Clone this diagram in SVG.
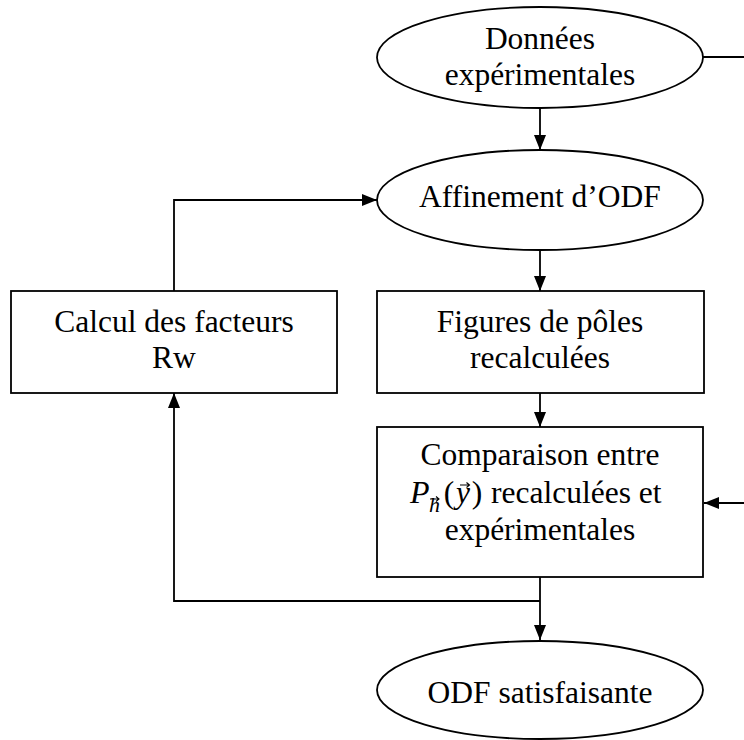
<svg xmlns="http://www.w3.org/2000/svg" width="744" height="740" viewBox="0 0 744 740">
<style>
.n{fill:#fff;stroke:#000;stroke-width:1.8}
.t{font-family:"Liberation Serif","Times New Roman",serif;font-size:31.5px;fill:#000;text-anchor:middle}
.ti{font-family:"Liberation Serif","Times New Roman",serif;font-style:italic;fill:#000}
.c{fill:none;stroke:#000;stroke-width:1.8}
</style>
<defs>
<marker id="a" markerUnits="userSpaceOnUse" markerWidth="16" markerHeight="12" refX="15" refY="6" orient="auto">
<path d="M0,0 L15,6 L0,12 Z" fill="#000"/>
</marker>
</defs>
<rect width="744" height="740" fill="#fff"/>
<g id="connectors">
<path class="c" d="M540,108 V150" marker-end="url(#a)"/>
<path class="c" d="M703,57 H744"/>
<path class="c" d="M744,503 H704" marker-end="url(#a)"/>
<path class="c" d="M540,250 V291" marker-end="url(#a)"/>
<path class="c" d="M540,393 V427" marker-end="url(#a)"/>
<path class="c" d="M540,577 V640" marker-end="url(#a)"/>
<path class="c" d="M540,601 H174 V393" marker-end="url(#a)"/>
<path class="c" d="M174,291 V200 H377" marker-end="url(#a)"/>
</g>
<g id="donnees">
<ellipse class="n" cx="540" cy="57.5" rx="163" ry="50.5"/>
<text class="t" x="540" y="49">Données</text>
<text class="t" x="540" y="85">expérimentales</text>
</g>
<g id="affinement">
<ellipse class="n" cx="540" cy="200" rx="163" ry="50"/>
<text class="t" x="540" y="207">Affinement d’ODF</text>
</g>
<g id="calcul">
<rect class="n" x="11" y="291" width="326" height="102"/>
<text class="t" x="174" y="332">Calcul des facteurs</text>
<text class="t" x="174" y="368">Rw</text>
</g>
<g id="figures">
<rect class="n" x="377" y="291" width="327" height="102"/>
<text class="t" x="540" y="332">Figures de pôles</text>
<text class="t" x="540" y="368">recalculées</text>
</g>
<g id="comparaison">
<rect class="n" x="377" y="427" width="326" height="150"/>
<text class="t" x="540" y="465">Comparaison entre</text>
<text class="ti" x="410" y="503" font-size="32">P</text>
<text class="ti" x="429" y="512" font-size="22">h</text>
<path d="M430,499 H438.5 M436,496.5 L439,499 L436,501.5" fill="none" stroke="#000" stroke-width="1.1"/>
<text class="t" x="449" y="503">(</text>
<text class="ti" x="456" y="503" font-size="31.5">y</text>
<path d="M460,485 H469 M466.5,482.5 L469.5,485 L466.5,487.5" fill="none" stroke="#000" stroke-width="1.1"/>
<text class="t" x="477" y="503">)</text>
<text class="t" x="491" y="503" style="text-anchor:start">recalculées et</text>
<text class="t" x="540" y="540">expérimentales</text>
</g>
<g id="odf">
<ellipse class="n" cx="540" cy="690" rx="163" ry="49"/>
<text class="t" x="540" y="703">ODF satisfaisante</text>
</g>
</svg>
